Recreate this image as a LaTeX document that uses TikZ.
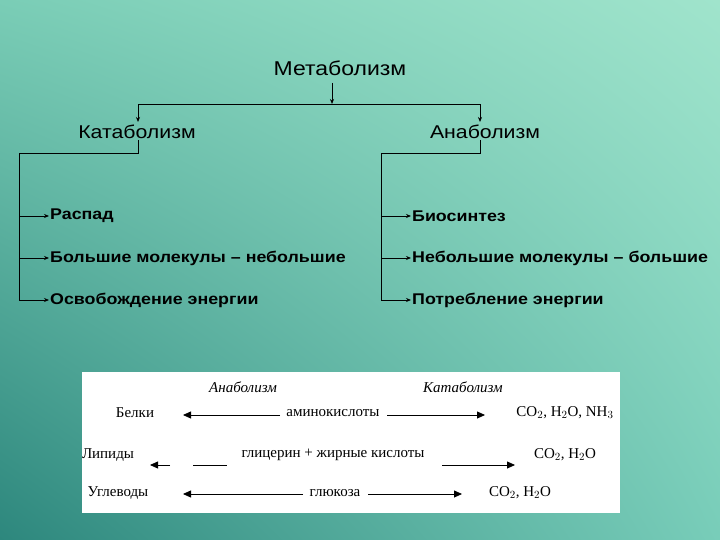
\documentclass[tikz,border=0pt]{standalone}
\usepackage{fontspec}
\setmainfont{Liberation Sans}[FakeStretch=1.15]
\newfontfamily\serifru{Liberation Serif}
\usetikzlibrary{arrows.meta,shadings}
\definecolor{bgUL}{RGB}{122,205,182}
\definecolor{bgUR}{RGB}{160,228,204}
\definecolor{bgLL}{RGB}{45,135,125}
\definecolor{bgLR}{RGB}{120,205,185}
\tikzset{
  conn/.style={line width=0.8pt,black},
  arr/.style={conn,-{Stealth[length=5pt,width=4pt]}},
  big/.style={-{Triangle[length=8pt,width=7pt]},line width=0.8pt},
  lbl/.style={inner sep=1pt,font=\fontsize{18.5}{20}\selectfont},
  item/.style={anchor=west,inner sep=1pt,font=\bfseries\fontsize{15.5}{18}\selectfont},
  tbl/.style={inner sep=1pt,font=\serifru\fontsize{15}{17}\selectfont},
  tit/.style={inner sep=1pt,font=\serifru\itshape\fontsize{15}{17}\selectfont},
}
\begin{document}
\begin{tikzpicture}[x=1pt,y=-1pt]
\useasboundingbox (0,0) rectangle (720,540);
\shade[upper left=bgUL,upper right=bgUR,lower left=bgLL,lower right=bgLR] (0,0) rectangle (720,540);
% top diagram
\node[lbl,font=\fontsize{20}{22}\selectfont] (met) at (340,68) {Метаболизм};
\node[lbl] (kat) at (137,132) {Катаболизм};
\node[lbl] (ana) at (485,132) {Анаболизм};
\coordinate (j) at (332,104);
\draw[arr] (332,83) -- (j);
\draw[arr] (j) -- (138,104) -- (138,122);
\draw[arr] (j) -- (480,104) -- (480,122);
\node[item] (r1) at (49,216) {Распад};
\node[item] (r2) at (49,258) {Большие молекулы – небольшие};
\node[item] (r3) at (49,300) {Освобождение энергии};
\node[item] (s1) at (411,216) {Биосинтез};
\node[item] (s2) at (411,258) {Небольшие молекулы – большие};
\node[item] (s3) at (411,300) {Потребление энергии};
\draw[conn] (138,140) -- (138,153) -- (19,153) -- (19,300);
\draw[arr] (19,216) -- (r1.west);
\draw[arr] (19,258) -- (r2.west);
\draw[arr] (19,300) -- (r3.west);
\draw[conn] (480,140) -- (480,153) -- (381,153) -- (381,300);
\draw[arr] (381,216) -- (s1.west);
\draw[arr] (381,258) -- (s2.west);
\draw[arr] (381,300) -- (s3.west);
% bottom table
\fill[white] (82,372) rectangle (620,513);
\node[tit] (ta) at (243,387) {Анаболизм};
\node[tit] (tk) at (463,387) {Катаболизм};
\node[tbl] (b1) at (135,413) {Белки};
\node[tbl] (m1) at (333,413) {аминокислоты};
\node[tbl] (p1) at (565,413) {CO$_2$, H$_2$O, NH$_3$};
\draw[big] (280,415) -- (183,415);
\draw[big] (387,415) -- (485,415);
\node[tbl] (b2) at (108,455) {Липиды};
\node[tbl] (m2) at (333,455) {глицерин + жирные кислоты};
\node[tbl] (p2) at (565,455) {CO$_2$, H$_2$O};
\draw[big] (170,465) -- (150,465);
\draw[line width=1pt] (193,465) -- (227,465);
\draw[big] (442,465) -- (515,465);
\node[tbl] (b3) at (118,493) {Углеводы};
\node[tbl] (m3) at (335,493) {глюкоза};
\node[tbl] (p3) at (520,493) {CO$_2$, H$_2$O};
\draw[big] (303,494) -- (183,494);
\draw[big] (368,494) -- (462,494);
\end{tikzpicture}
\end{document}
